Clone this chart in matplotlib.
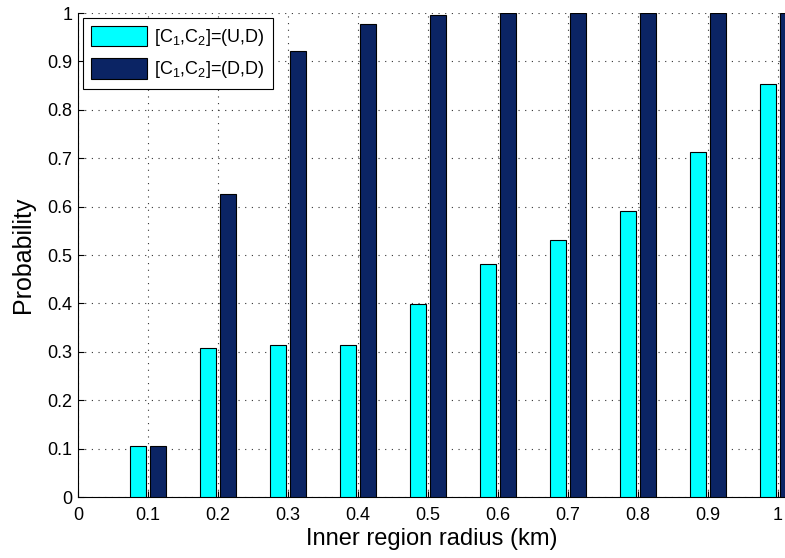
import numpy as np
import matplotlib
matplotlib.use("Agg")
from matplotlib import pyplot as plt

radius = [0.1, 0.2, 0.3, 0.4, 0.5, 0.6, 0.7, 0.8, 0.9, 1.0]
prob_ud = [0.105, 0.308, 0.315, 0.315, 0.398, 0.482, 0.530, 0.590, 0.712, 0.853]
prob_dd = [0.105, 0.627, 0.921, 0.977, 0.995, 1.0, 1.0, 1.0, 1.0, 1.0]
labels = ["[C$_1$,C$_2$]=(U,D)", "[C$_1$,C$_2$]=(D,D)"]
xticks = [0, 0.1, 0.2, 0.3, 0.4, 0.5, 0.6, 0.7, 0.8, 0.9, 1]
xticklabels = ["0", "0.1", "0.2", "0.3", "0.4", "0.5", "0.6", "0.7", "0.8", "0.9", "1"]
yticks = [0, 0.1, 0.2, 0.3, 0.4, 0.5, 0.6, 0.7, 0.8, 0.9, 1]
yticklabels = ["0", "0.1", "0.2", "0.3", "0.4", "0.5", "0.6", "0.7", "0.8", "0.9", "1"]

plt.rcParams['font.family'] = ['Liberation Sans', 'DejaVu Sans']
plt.rcParams['mathtext.fontset'] = 'custom'
plt.rcParams['mathtext.rm'] = 'Liberation Sans'

fig = plt.figure(figsize=(7.85, 5.58), dpi=100)
ax = fig.add_axes([78 / 785, 61 / 558, 707 / 785, 484 / 558])

x = np.array(radius)
w = 0.0229
off = 0.0143
ax.bar(x - off, prob_ud, w, color='#00ffff', edgecolor='black', linewidth=0.8,
       label=labels[0], zorder=3)
ax.bar(x + off, prob_dd, w, color='#0b2464', edgecolor='black', linewidth=0.8,
       label=labels[1], zorder=3)

ax.set_xlim(0, 1.01)
ax.set_ylim(0, 1)
ax.set_xticks(xticks)
ax.set_xticklabels(xticklabels, fontsize=13)
ax.set_yticks(yticks)
ax.set_yticklabels(yticklabels, fontsize=13)
ax.tick_params(direction='in', length=4, width=0.8)
ax.tick_params(axis='x', pad=7)
ax.tick_params(axis='y', pad=4)
ax.spines['top'].set_visible(False)
ax.spines['right'].set_visible(False)
ax.grid(True, linestyle=(0, (1, 5)), color='0.2', linewidth=0.8, zorder=0)

ax.set_xlabel("Inner region radius (km)", fontsize=17, labelpad=3)
ax.set_ylabel("Probability", fontsize=18, labelpad=9)

leg = ax.legend(loc='upper left', fontsize=13, fancybox=False, framealpha=1,
                edgecolor='black', handlelength=3.1, handleheight=1.4,
                borderaxespad=0.25, labelspacing=0.55, handletextpad=0.4,
                borderpad=0.45)
leg.get_frame().set_linewidth(0.8)

fig.savefig("out.png", dpi=100)
